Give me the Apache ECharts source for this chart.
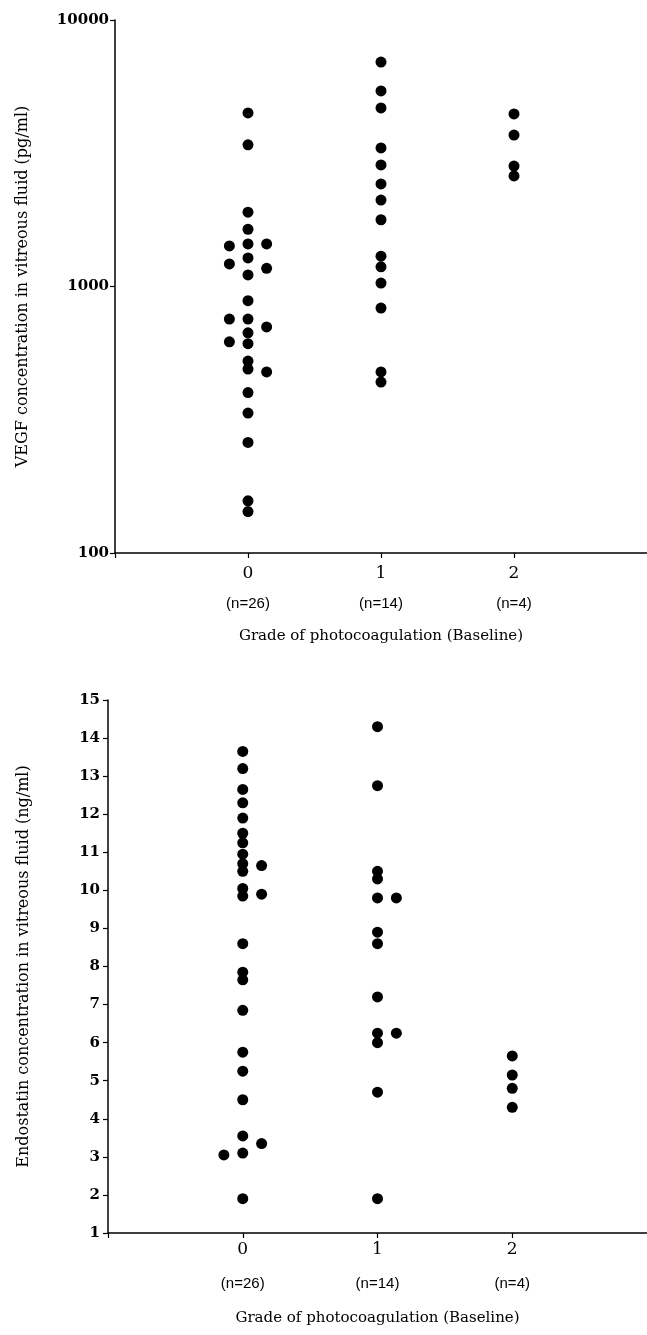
<!DOCTYPE html>
<html>
<head>
<meta charset="utf-8">
<script src="https://cdn.jsdelivr.net/npm/echarts@6/dist/echarts.min.js"></script>
<style>
html, body { margin: 0; padding: 0; background: #fff; }
#chart { width: 647px; height: 1335px; }
</style>
</head>
<body>
<div id="chart"></div>
<script>
// grade categories and sample sizes
var grades = ['0', '1', '2'];
var nLabels = ['(n=26)', '(n=14)', '(n=4)'];

// VEGF (pg/ml)
var vegf0 = [4480, 3400, 1900, 1640, 1445, 1280, 1105, 885, 755, 670, 610, 525, 490, 400, 335, 260, 157, 143];
var vegf0Left = [1420, 1215, 755, 620];
var vegf0Right = [1445, 1170, 705, 478];
var vegf1 = [6950, 5420, 4680, 3310, 2860, 2425, 2110, 1780, 1300, 1185, 1030, 830, 478, 438];
var vegf2 = [4440, 3700, 2830, 2600];

// Endostatin (ng/ml)
var endo0 = [13.65, 13.2, 12.65, 12.3, 11.9, 11.5, 11.25, 10.95, 10.7, 10.5, 10.05, 9.85, 8.6, 7.85, 7.65, 6.85, 5.75, 5.25, 4.5, 3.55, 3.1, 1.9];
var endo0Left = [3.05];
var endo0Right = [10.65, 9.9, 3.35];
var endo1 = [14.3, 12.75, 10.5, 10.3, 9.8, 8.9, 8.6, 7.2, 6.25, 6.0, 4.7, 1.9];
var endo1Right = [9.8, 6.25];
var endo2 = [5.65, 5.15, 4.8, 4.3];

var SIDE = 0.14; // horizontal offset of side-by-side dots

function pts(vals, g, off) {
	var out = [];
	for (var i = 0; i < vals.length; i++) {
		out.push([g + off, vals[i]]);
	}
	return out;
}

var vegfData = [].concat(
	pts(vegf0, 0, 0), pts(vegf0Left, 0, -SIDE), pts(vegf0Right, 0, SIDE),
	pts(vegf1, 1, 0), pts(vegf2, 2, 0)
);
var endoData = [].concat(
	pts(endo0, 0, 0), pts(endo0Left, 0, -SIDE), pts(endo0Right, 0, SIDE),
	pts(endo1, 1, 0), pts(endo1Right, 1, SIDE), pts(endo2, 2, 0)
);

function gradeLabel(v) {
	var i = Math.round(v);
	if (Math.abs(v - i) > 1e-6 || i < 0 || i > 2) return '';
	return '{a|' + grades[i] + '}\n{b|' + nLabels[i] + '}';
}

var serif = '"DejaVu Serif", serif';
var sans = '"Liberation Sans", Arial, sans-serif';
var tick = { show: true, length: 5, lineStyle: { color: '#000', width: 1.2 } };

function xAxis(grid, gap, aLH, bLH) {
	return {
		gridIndex: grid,
		type: 'value',
		min: -1,
		max: 3,
		interval: 1,
		splitLine: { show: false },
		axisLine: { lineStyle: { color: '#000', width: 1.5 } },
		axisTick: tick,
		axisLabel: {
			margin: 6,
			showMaxLabel: false,
			formatter: gradeLabel,
			rich: {
				a: { fontFamily: serif, fontSize: 17, color: '#000', lineHeight: aLH },
				b: { fontFamily: sans, fontSize: 15, color: '#000', lineHeight: bLH }
			}
		},
		name: 'Grade of photocoagulation (Baseline)',
		nameLocation: 'middle',
		nameGap: gap,
		nameTextStyle: { fontFamily: serif, fontSize: 15, color: '#000' }
	};
}

var chart = echarts.init(document.getElementById('chart'));
var option = {
	backgroundColor: '#fff',
	animation: false,
	grid: [
		{ left: 115, top: 20, height: 533, right: -8 },
		{ left: 108, top: 700, height: 533, right: -8 }
	],
	xAxis: [
		xAxis(0, 76, 30, 30),
		xAxis(1, 78, 22, 46)
	],
	yAxis: [
		{
			gridIndex: 0,
			type: 'log',
			logBase: 10,
			min: 100,
			max: 10000,
			splitLine: { show: false },
			minorTick: { show: false },
			axisLine: { onZero: false, lineStyle: { color: '#000', width: 1.5 } },
			axisTick: tick,
			axisLabel: {
				fontFamily: serif, fontWeight: 'bold', fontSize: 15, color: '#000', margin: 6,
				formatter: function (v) { return String(Math.round(v)); }
			},
			name: 'VEGF concentration in vitreous fluid (pg/ml)',
			nameLocation: 'middle',
			nameGap: 84,
			nameTextStyle: { fontFamily: serif, fontSize: 16, color: '#000' }
		},
		{
			gridIndex: 1,
			type: 'value',
			min: 1,
			max: 15,
			interval: 1,
			splitLine: { show: false },
			axisLine: { onZero: false, lineStyle: { color: '#000', width: 1.5 } },
			axisTick: tick,
			axisLabel: { fontFamily: serif, fontWeight: 'bold', fontSize: 15, color: '#000', margin: 8 },
			name: 'Endostatin concentration in vitreous fluid (ng/ml)',
			nameLocation: 'middle',
			nameGap: 76,
			nameTextStyle: { fontFamily: serif, fontSize: 16, color: '#000' }
		}
	],
	series: [
		{
			type: 'scatter',
			xAxisIndex: 0,
			yAxisIndex: 0,
			symbol: 'circle',
			symbolSize: 11,
			itemStyle: { color: '#000', opacity: 1 },
			data: vegfData
		},
		{
			type: 'scatter',
			xAxisIndex: 1,
			yAxisIndex: 1,
			symbol: 'circle',
			symbolSize: 11,
			itemStyle: { color: '#000', opacity: 1 },
			data: endoData
		}
	]
};
chart.setOption(option);
</script>
</body>
</html>
